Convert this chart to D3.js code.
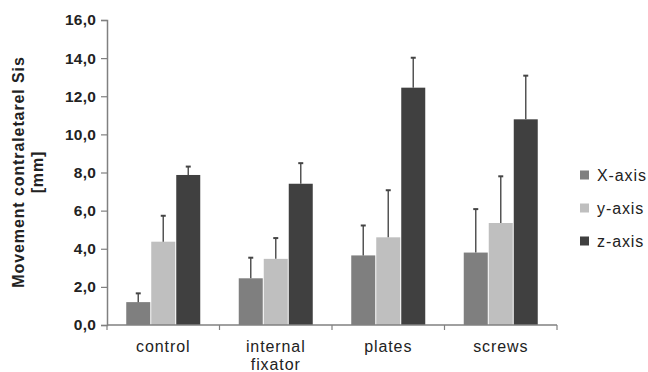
<!DOCTYPE html>
<html><head><meta charset="utf-8">
<script src="https://cdn.jsdelivr.net/npm/d3@7"></script>
<style>body{margin:0;background:#fff}svg{display:block}text{font-family:"Liberation Sans",Arial,sans-serif}</style>
</head><body>
<svg id="c" width="648" height="372"></svg>
<script>
const categories = ["control", "internal fixator", "plates", "screws"];
const series = ["X-axis", "y-axis", "z-axis"];
const xValues = [1.2, 2.45, 3.65, 3.8];
const yValues = [4.37, 3.47, 4.6, 5.35];
const zValues = [7.87, 7.41, 12.45, 10.79];
const xErr = [0.46, 1.08, 1.57, 2.28];
const yErr = [1.36, 1.09, 2.47, 2.45];
const zErr = [0.44, 1.08, 1.57, 2.29];
const yTicks = [0, 2, 4, 6, 8, 10, 12, 14, 16];
const colors = ["#7f7f7f", "#bfbfbf", "#404040"];

const values = [xValues, yValues, zValues];
const errs = [xErr, yErr, zErr];
const svg = d3.select("#c");
const x0 = d3.scaleBand().domain(categories).range([107, 557]).paddingInner(0).paddingOuter(0);
const x1 = d3.scaleBand().domain(series).range([0, x0.bandwidth()]).paddingInner(0).paddingOuter(0.75);
const y = d3.scaleLinear().domain([0, 16]).range([325, 20]);

// bars
series.forEach((s, si) => {
  const g = svg.append("g");
  g.selectAll("rect").data(categories).join("rect")
    .attr("x", (c) => x0(c) + x1(s) + 0.5)
    .attr("y", (c, i) => y(values[si][i]))
    .attr("width", x1.bandwidth() - 1)
    .attr("height", (c, i) => y(0) - y(values[si][i]))
    .attr("fill", colors[si]);
  g.selectAll("line.v").data(categories).join("line").attr("class", "v")
    .attr("x1", (c) => x0(c) + x1(s) + x1.bandwidth() / 2)
    .attr("x2", (c) => x0(c) + x1(s) + x1.bandwidth() / 2)
    .attr("y1", (c, i) => y(values[si][i]))
    .attr("y2", (c, i) => y(values[si][i] + errs[si][i]))
    .attr("stroke", "#555").attr("stroke-width", 1.5);
  g.selectAll("line.cap").data(categories).join("line").attr("class", "cap")
    .attr("x1", (c) => x0(c) + x1(s) + x1.bandwidth() / 2 - 2.5)
    .attr("x2", (c) => x0(c) + x1(s) + x1.bandwidth() / 2 + 2.5)
    .attr("y1", (c, i) => y(values[si][i] + errs[si][i]))
    .attr("y2", (c, i) => y(values[si][i] + errs[si][i]))
    .attr("stroke", "#444").attr("stroke-width", 2);
});

// y axis
const yAxis = d3.axisLeft(y).tickValues(yTicks).tickSize(6).tickPadding(5)
  .tickFormat((d) => d3.format(".1f")(d).replace(".", ","));
const ya = svg.append("g").attr("transform", "translate(107,0)").call(yAxis);
ya.select(".domain").attr("stroke", "#808080").attr("stroke-width", 1.5);
ya.selectAll(".tick line").attr("stroke", "#808080").attr("stroke-width", 1.2);
ya.selectAll(".tick text").attr("font-size", 15.5).attr("font-weight", "bold").attr("fill", "#222")
  .attr("letter-spacing", 0.2);

// x axis
const xa = svg.append("g").attr("transform", "translate(0,325)");
xa.append("line").attr("x1", x0.range()[0]).attr("x2", x0.range()[1]).attr("y1", 0).attr("y2", 0)
  .attr("stroke", "#808080").attr("stroke-width", 1.5);
const bounds = categories.map((c) => x0(c)).concat([x0.range()[1]]);
xa.selectAll("line.t").data(bounds).join("line").attr("class", "t")
  .attr("x1", (d) => d).attr("x2", (d) => d).attr("y1", 0).attr("y2", 5)
  .attr("stroke", "#808080").attr("stroke-width", 1.2);
const labels = xa.selectAll("text").data(categories).join("text")
  .attr("x", (c) => x0(c) + x0.bandwidth() / 2)
  .attr("y", 27)
  .attr("text-anchor", "middle").attr("font-size", 16).attr("letter-spacing", 0.9).attr("fill", "#222");
labels.each(function (c) {
  const words = c.split(" ");
  const t = d3.select(this);
  words.forEach((w, i) => t.append("tspan").attr("x", x0(c) + x0.bandwidth() / 2).attr("dy", i ? 18 : 0).text(w));
});

// y title
const yt = svg.append("text").attr("transform", "translate(24,172) rotate(-90)")
  .attr("text-anchor", "middle").attr("font-size", 16).attr("font-weight", "bold")
  .attr("letter-spacing", 0.9).attr("fill", "#222");
yt.append("tspan").attr("x", 0).attr("dy", 0).text("Movement contraletarel Sis");
yt.append("tspan").attr("x", 0).attr("dy", 19).text("[mm]");

// legend
const lg = svg.append("g");
series.forEach((s, i) => {
  const cy = 175 + i * 33;
  lg.append("rect").attr("x", 580).attr("y", cy - 4.5).attr("width", 9).attr("height", 9).attr("fill", colors[i]);
  lg.append("text").attr("x", 597).attr("y", cy + 5.5).attr("font-size", 16).attr("letter-spacing", 0.9)
    .attr("fill", "#222").text(s);
});
</script>
</body></html>
